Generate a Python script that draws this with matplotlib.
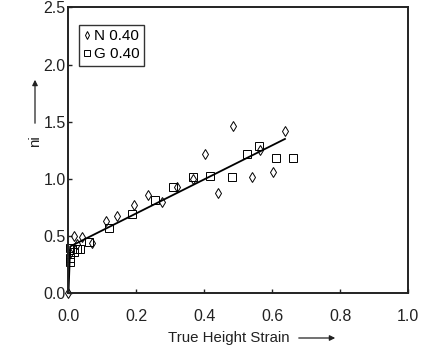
import matplotlib
matplotlib.use("Agg")
import matplotlib.pyplot as plt

plt.rcParams['font.family'] = ['Liberation Sans', 'DejaVu Sans']

# N 0.40 (diamonds)
n_x = [0.0, 0.004, 0.015, 0.026, 0.041, 0.069, 0.109, 0.144, 0.193, 0.233, 0.276,
       0.320, 0.367, 0.402, 0.441, 0.485, 0.539, 0.564, 0.603, 0.637]
n_y = [0.0, 0.35, 0.50, 0.43, 0.49, 0.44, 0.63, 0.68, 0.77, 0.86, 0.80,
       0.93, 1.00, 1.22, 0.88, 1.46, 1.02, 1.25, 1.06, 1.42]

# G 0.40 (squares)
g_x = [0.003, 0.003, 0.004, 0.016, 0.025, 0.034, 0.061, 0.120, 0.186, 0.255,
       0.308, 0.366, 0.415, 0.480, 0.525, 0.561, 0.611, 0.661]
g_y = [0.27, 0.31, 0.40, 0.36, 0.39, 0.39, 0.45, 0.57, 0.69, 0.82,
       0.93, 1.02, 1.03, 1.02, 1.22, 1.29, 1.18, 1.18]

# fitted curve
fit_x = [0.0, 0.005, 0.637]
fit_y = [0.0, 0.41, 1.35]

x_ticks = [0.0, 0.2, 0.4, 0.6, 0.8, 1.0]
y_ticks = [0.0, 0.5, 1.0, 1.5, 2.0, 2.5]

fig = plt.figure(figsize=(4.41, 3.53), dpi=100)
ax = fig.add_axes([0.1553, 0.169, 0.7706, 0.810])

ax.plot(n_x, n_y, linestyle='none', marker='d', markersize=5.5,
        markerfacecolor='none', markeredgecolor='black', markeredgewidth=0.7,
        label='N 0.40', clip_on=False)
ax.plot(g_x, g_y, linestyle='none', marker='s', markersize=5.5,
        markerfacecolor='none', markeredgecolor='black', markeredgewidth=0.7,
        label='G 0.40', clip_on=False)
ax.plot(fit_x, fit_y, color='black', linewidth=1.3)

ax.set_xlim(0, 1.0)
ax.set_ylim(0, 2.5)
ax.set_xticks(x_ticks)
ax.set_yticks(y_ticks)
ax.set_xticklabels([f'{v:.1f}' for v in x_ticks], fontsize=11.5)
ax.set_yticklabels([f'{v:.1f}' for v in y_ticks], fontsize=11.5)
ax.tick_params(direction='in', length=3, width=1, colors='#222222')
ax.tick_params(axis='x', pad=11)
ax.tick_params(axis='y', pad=2)
for s in ax.spines.values():
    s.set_linewidth(1.4)
    s.set_color('#222222')

leg = ax.legend(loc='upper left', bbox_to_anchor=(0.03, 0.94), fontsize=11,
                frameon=True, fancybox=False, edgecolor='black',
                handlelength=0.5, handletextpad=0.2, borderpad=0.3,
                labelspacing=0.25, borderaxespad=0.0, markerscale=0.75)
leg.get_frame().set_linewidth(1.0)

fig.text(229/441, 1 - 338/353, 'True Height Strain', ha='center', va='center',
         fontsize=10.8, color='#222222')
fig.add_artist(matplotlib.patches.FancyArrowPatch(
    (296/441, 1 - 338/353), (338/441, 1 - 338/353), transform=fig.transFigure,
    arrowstyle='-|>', mutation_scale=8, color='#222222', linewidth=0.9))

fig.text(35/441, 1 - 141/353, 'ni', ha='center', va='center', rotation=90,
         fontsize=10.8, color='#222222')
fig.add_artist(matplotlib.patches.FancyArrowPatch(
    (35/441, 1 - 126/353), (35/441, 1 - 77/353), transform=fig.transFigure,
    arrowstyle='-|>', mutation_scale=8, color='#222222', linewidth=0.9))

fig.savefig('out.png', dpi=100)
